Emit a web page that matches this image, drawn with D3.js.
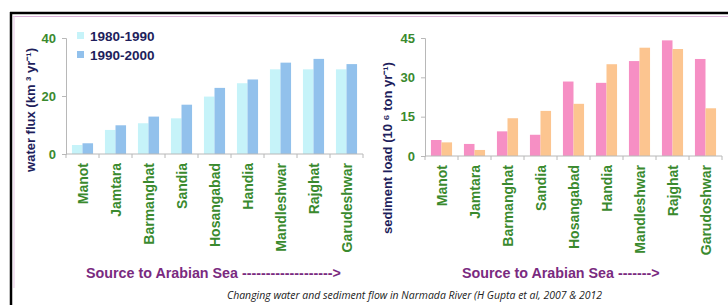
<!DOCTYPE html>
<html>
<head>
<meta charset="utf-8">
<script src="https://cdnjs.cloudflare.com/ajax/libs/d3/7.8.5/d3.min.js"></script>
<style>
  body { margin: 0; background: #fff; }
  text { font-family: "Liberation Sans", Arial, sans-serif; }
</style>
</head>
<body>
<script>
// stations along the river, source -> sea
var stations = ["Manot", "Jamtara", "Barmanghat", "Sandia", "Hosangabad", "Handia", "Mandleshwar", "Rajghat", "Garudeshwar"];
var stationsRight = ["Manot", "Jamtara", "Barmanghat", "Sandia", "Hosangabad", "Handia", "Mandleshwar", "Rajghat", "Garudoshwar"];

// water flux (km3/yr)
var flux8090 = [3.1, 8.3, 10.6, 12.3, 19.8, 24.4, 29.2, 29.2, 29.2];
var flux9000 = [3.7, 9.9, 12.9, 17.0, 22.8, 25.7, 31.5, 32.8, 31.0];
var fluxTicks = [0, 20, 40];

// sediment load (10^6 ton/yr)
var sed8090 = [6.1, 4.6, 9.4, 8.1, 28.4, 27.9, 36.2, 44.1, 37.0];
var sed9000 = [5.2, 2.3, 14.4, 17.2, 19.9, 35.0, 41.3, 40.8, 18.2];
var sedTicks = [0, 15, 30, 45];

var legendLabels = ["1980-1990", "1990-2000"];

var W = 728, H = 305;
var green = "#3a8a2e", navy = "#1e1e5c", purple = "#7a2a80", axisGrey = "#b8b8b8";

var svg = d3.select("body").append("svg")
    .attr("width", W)
    .attr("height", H);

// frame: black line + pale pink inner line (top and left only)
svg.append("line").attr("x1", 10).attr("x2", W).attr("y1", 13).attr("y2", 13)
    .attr("stroke", "#000").attr("stroke-width", 2.5);
svg.append("line").attr("x1", 11).attr("x2", 11).attr("y1", 12).attr("y2", H)
    .attr("stroke", "#000").attr("stroke-width", 2.5);
svg.append("line").attr("x1", 13).attr("x2", W).attr("y1", 16.5).attr("y2", 16.5)
    .attr("stroke", "#dcb0d8").attr("stroke-width", 1.2);
svg.append("line").attr("x1", 14).attr("x2", 14).attr("y1", 16).attr("y2", 288)
    .attr("stroke", "#ecd0ea").attr("stroke-width", 1.2);

function drawPanel(opts) {
  var g = svg.append("g");

  var x = d3.scaleBand()
      .domain(d3.range(opts.labels.length))
      .range(opts.xRange)
      .paddingInner(0.36)
      .paddingOuter(0.18);

  var sub = d3.scaleBand()
      .domain([0, 1])
      .range([0, x.bandwidth()]);

  var y = d3.scaleLinear()
      .domain(opts.yDomain)
      .range(opts.yRange);

  // bars
  [opts.s1, opts.s2].forEach(function(series, si) {
    g.selectAll(".bar" + si)
      .data(series)
      .enter().append("rect")
        .attr("x", function(d, i) { return x(i) + sub(si); })
        .attr("width", sub.bandwidth())
        .attr("y", function(d) { return y(d); })
        .attr("height", function(d) { return y(0) - y(d); })
        .attr("fill", opts.colors[si]);
  });

  // y axis
  var yAxis = d3.axisLeft(y).tickValues(opts.ticks).tickSize(4).tickPadding(6);
  var ya = g.append("g")
      .attr("transform", "translate(" + opts.xRange[0] + ",0)")
      .call(yAxis);
  ya.select(".domain").attr("stroke", axisGrey);
  ya.selectAll(".tick line").attr("stroke", axisGrey);
  ya.selectAll(".tick text")
      .attr("fill", green)
      .style("font-size", "13px")
      .style("font-weight", "bold");

  // x axis line + ticks between categories
  var step = x.step();
  var x0 = opts.xRange[0];
  g.append("line")
      .attr("x1", x0).attr("x2", opts.xRange[1])
      .attr("y1", y(0)).attr("y2", y(0))
      .attr("stroke", axisGrey);
  g.selectAll(".xtick")
    .data(d3.range(opts.labels.length + 1))
    .enter().append("line")
      .attr("x1", function(i) { return x0 + i * step; })
      .attr("x2", function(i) { return x0 + i * step; })
      .attr("y1", y(0)).attr("y2", y(0) + 4)
      .attr("stroke", axisGrey);

  // category labels, rotated
  g.selectAll(".cat")
    .data(opts.labels)
    .enter().append("text")
      .attr("transform", function(d, i) {
        return "translate(" + (x(i) + x.bandwidth() / 2) + "," + (y(0) + 9) + ") rotate(-90)";
      })
      .attr("text-anchor", "end")
      .attr("dy", "0.36em")
      .attr("fill", green)
      .style("font-size", "14px")
      .style("font-weight", "bold")
      .text(function(d) { return d; });

  // y title
  g.append("text")
      .attr("transform", "translate(" + opts.titleX + "," + opts.titleY + ") rotate(-90)")
      .attr("text-anchor", "middle")
      .attr("fill", navy)
      .style("font-size", "13px")
      .style("font-weight", "bold")
      .text(opts.title);

  // bottom arrow text
  g.append("text")
      .attr("x", opts.srcX)
      .attr("y", 278)
      .attr("fill", purple)
      .style("font-size", "14.3px")
      .style("font-weight", "bold")
      .text(opts.srcText);

  return { x: x, y: y };
}

drawPanel({
  labels: stations,
  s1: flux8090, s2: flux9000,
  colors: ["#c6f3f9", "#92c1ec"],
  xRange: [66, 363],
  yDomain: [0, 40], yRange: [154, 38],
  ticks: fluxTicks,
  title: "water flux (km \u00b3 yr\u207b\u00b9)",
  titleX: 35, titleY: 110,
  srcX: 86, srcText: "Source to Arabian Sea ------------------->"
});

drawPanel({
  labels: stationsRight,
  s1: sed8090, s2: sed9000,
  colors: ["#f68fc4", "#fcc590"],
  xRange: [425, 722],
  yDomain: [0, 45], yRange: [156, 38],
  ticks: sedTicks,
  title: "sediment load (10 \u2076 ton  yr\u207b\u00b9)",
  titleX: 392, titleY: 148,
  srcX: 462, srcText: "Source to Arabian Sea ------->"
});

// legend (left panel)
var legend = svg.append("g");
legendLabels.forEach(function(lab, i) {
  var ly = 36 + i * 19;
  legend.append("rect")
      .attr("x", 77).attr("y", ly - 4)
      .attr("width", 7).attr("height", 7)
      .attr("fill", i === 0 ? "#c6f3f9" : "#92c1ec");
  legend.append("text")
      .attr("x", 90).attr("y", ly)
      .attr("dy", "0.36em")
      .attr("fill", navy)
      .style("font-size", "13.5px")
      .style("font-weight", "bold")
      .text(lab);
});

// caption
svg.append("text")
    .attr("x", 227)
    .attr("y", 299)
    .attr("textLength", 375)
    .attr("lengthAdjust", "spacingAndGlyphs")
    .attr("fill", "#222")
    .style("font-family", "'Open Sans', sans-serif")
    .style("font-style", "italic")
    .style("font-size", "10px")
    .text("Changing water and sediment flow in Narmada River (H Gupta et al, 2007 & 2012");
</script>
</body>
</html>
